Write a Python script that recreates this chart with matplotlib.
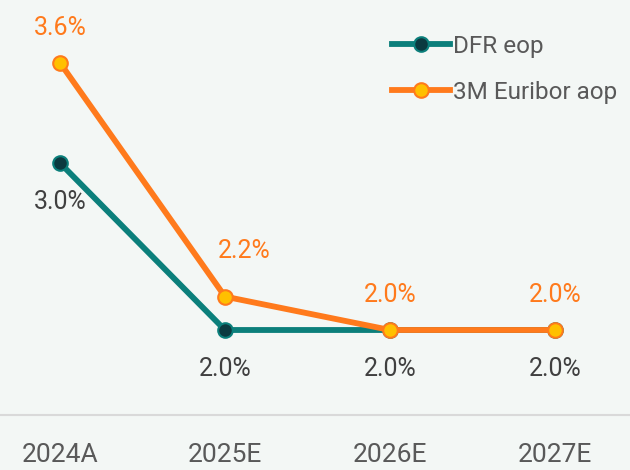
import matplotlib.pyplot as plt
import numpy as np

# данные
years = ["2024A", "2025E", "2026E", "2027E"]
dfr = [3.0, 2.0, 2.0, 2.0]
euribor = [3.6, 2.2, 2.0, 2.0]

bg = "#F3F7F5"
teal = "#0B7F7B"
orange = "#FF7A1C"

plt.rcParams['font.family'] = ['Roboto', 'DejaVu Sans']

fig = plt.figure(figsize=(6.3, 4.7), dpi=100, facecolor=bg)
ax = fig.add_axes([0, 55 / 470, 1, 415 / 470], facecolor=bg)

x = np.arange(len(years))
ax.plot(x, dfr, color=teal, lw=4.2, marker="o", ms=10.5, mfc="#0B3A40",
        mec=teal, mew=1.5, label="DFR eop", zorder=3)
ax.plot(x, euribor, color=orange, lw=4.2, marker="o", ms=10.5, mfc="#FFC000",
        mec=orange, mew=1.5, label="3M Euribor aop", zorder=4)

# подписи значений
for i, v in enumerate(dfr):
    ax.annotate(f"{v:.1f}%", (x[i], v), xytext=(0, -28), textcoords="offset points",
                ha="center", va="center", fontsize=18, color="#404040")
for i, v in enumerate(euribor):
    dx, dy = (14, 33) if i == 1 else (0, 25)
    ax.annotate(f"{v:.1f}%", (x[i], v), xytext=(dx, dy), textcoords="offset points",
                ha="center", va="center", fontsize=18, color=orange)

ax.set_xlim(-60 / 165, 570 / 165)
ax.set_ylim(2.0 - 85 / 167, 2.0 + 330 / 167)
ax.set_xticks(x)
ax.set_xticklabels(years, fontsize=19, color="#595959")
ax.tick_params(axis="x", length=0, pad=20)
ax.set_yticks([])
for s in ["top", "left", "right"]:
    ax.spines[s].set_visible(False)
ax.spines["bottom"].set_color("#D9D9D9")
ax.spines["bottom"].set_linewidth(1.5)

ax.legend(loc="upper right", bbox_to_anchor=(0.995, 0.94), frameon=False,
          borderaxespad=0, fontsize=17.5, handlelength=2.4, handletextpad=0.1,
          labelspacing=0.95, labelcolor="#595959")

fig.savefig("out.png", dpi=100, facecolor=bg)
